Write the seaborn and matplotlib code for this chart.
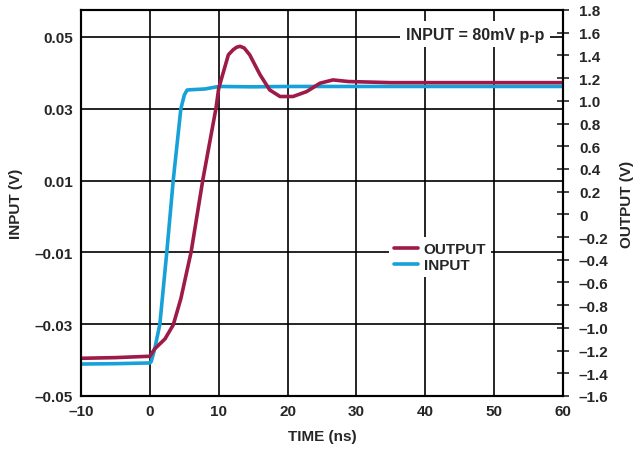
import matplotlib
matplotlib.use('Agg')
import matplotlib.pyplot as plt
import seaborn as sns

time_in = [-10, -5, 0, 0.2, 0.7, 1.45, 2.45, 3.4, 4.5, 5.0, 5.4, 6, 8, 10, 15, 20, 30, 40, 50, 60]
input_v = [-0.0411, -0.0410, -0.0408, -0.0404, -0.0369, -0.0300, -0.0101, 0.0102, 0.0300, 0.0338,
           0.0352, 0.0353, 0.0355, 0.0362, 0.0361, 0.0362, 0.0362, 0.0362, 0.0362, 0.0362]

time_out = [-10, -5, 0, 0.7, 2.2, 3.4, 4.5, 6.0, 7.7, 9.6, 10.0, 11.4, 12.1, 12.6, 13.1, 13.7,
            14.5, 16.0, 17.4, 18.9, 20.8, 22.8, 24.7, 26.6, 28.8, 35, 45, 60]
output_v = [-1.268, -1.262, -1.250, -1.185, -1.097, -0.973, -0.743, -0.328, 0.307, 0.934, 1.110,
            1.405, 1.450, 1.472, 1.480, 1.465, 1.405, 1.230, 1.096, 1.038, 1.038, 1.082, 1.155,
            1.184, 1.170, 1.160, 1.160, 1.160]

x_ticks = [-10, 0, 10, 20, 30, 40, 50, 60]
left_ticks = [-0.05, -0.03, -0.01, 0.01, 0.03, 0.05]
right_ticks = [-1.6, -1.4, -1.2, -1.0, -0.8, -0.6, -0.4, -0.2, 0, 0.2, 0.4, 0.6, 0.8,
               1.0, 1.2, 1.4, 1.6, 1.8]

red = '#9E1A48'
blue = '#16A2D8'


def lab(v, fmt):
    if v == 0:
        return '0'
    return (fmt % v).replace('-', '\u2013')


sns.set_style('white')
plt.rcParams['font.family'] = ['Liberation Sans', 'DejaVu Sans']
plt.rcParams['font.weight'] = 'bold'

fig = plt.figure(figsize=(6.44, 4.52), dpi=100)
ax = fig.add_axes([0.1258, 0.1217, 0.7484, 0.854])
ax2 = ax.twinx()

sns.lineplot(x=time_in, y=input_v, ax=ax, color=blue, lw=2.6, estimator=None)
sns.lineplot(x=time_out, y=output_v, ax=ax2, color=red, lw=2.6, estimator=None)

ax.set_xlim(-10, 60)
ax.set_ylim(-0.05, 0.0575)
ax2.set_ylim(-1.6, 1.8)

ax.set_xticks(x_ticks)
ax.set_xticklabels([lab(v, '%d') for v in x_ticks])
ax.set_yticks(left_ticks)
ax.set_yticklabels([lab(v, '%.2f') for v in left_ticks])
ax2.set_yticks(right_ticks)
ax2.set_yticklabels([lab(v, '%.1f') for v in right_ticks])

ax.grid(True, color='black', lw=1.2)
ax.tick_params(length=0, labelsize=11, pad=6)
ax2.tick_params(axis='y', direction='inout', length=9, width=1.2, labelsize=11, pad=7)
for a in (ax, ax2):
    for sp in a.spines.values():
        sp.set_color('black')
        sp.set_linewidth(1.5)

ax.set_xlabel('TIME (ns)', fontsize=11, fontweight='bold', labelpad=8)
ax.set_ylabel('INPUT (V)', fontsize=11, fontweight='bold', labelpad=8)
ax2.set_ylabel('OUTPUT (V)', fontsize=11, fontweight='bold', labelpad=8)

ax.text(47.2, 0.0508, 'INPUT = 80mV p-p', ha='center', va='center', fontsize=11.5,
        fontweight='bold', bbox=dict(facecolor='white', edgecolor='none', pad=4))

h_out, = ax2.plot([], [], color=red, lw=2.6)
h_in, = ax.plot([], [], color=blue, lw=2.6)
leg = ax2.legend([h_out, h_in], ['OUTPUT', 'INPUT'], loc='center', bbox_to_anchor=(0.745, 0.36),
                 fontsize=11, frameon=True, facecolor='white', edgecolor='none', framealpha=1,
                 handlelength=1.6, handletextpad=0.35, labelspacing=0.15, borderpad=0.3,
                 fancybox=False)
for t in leg.get_texts():
    t.set_fontweight('bold')

fig.savefig('out.png', dpi=100)
